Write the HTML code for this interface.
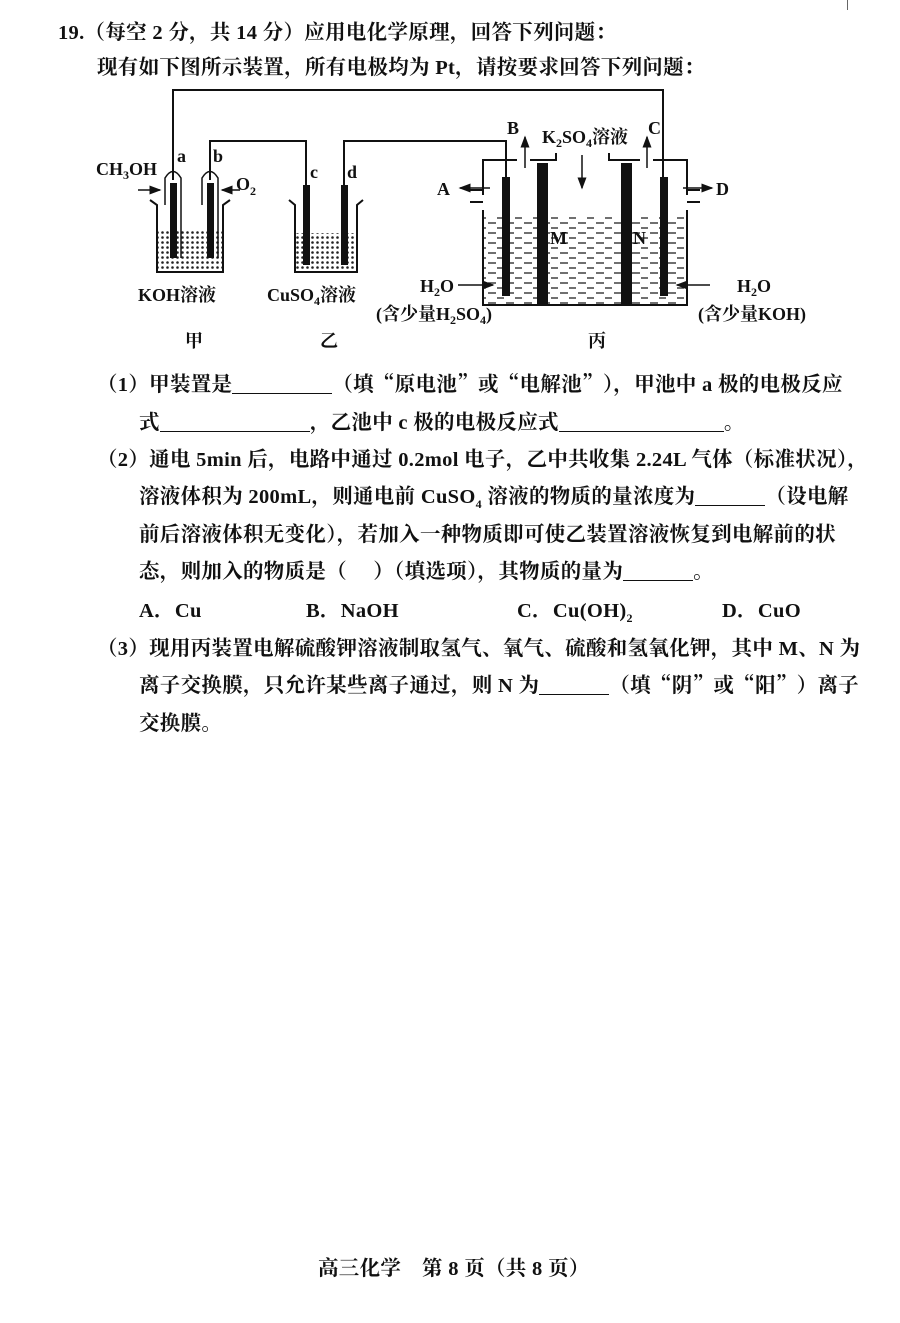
<!DOCTYPE html>
<html><head><meta charset="utf-8"><style>
body{margin:0;background:#fff;}
#p{position:relative;width:900px;height:1323px;overflow:hidden;font-family:"Liberation Serif","Noto Serif CJK SC","Noto Sans CJK SC",serif;color:#111;}
.l{position:absolute;font-size:20.5px;letter-spacing:0.3px;white-space:nowrap;font-weight:bold;}
.q{font-family:"Noto Serif CJK SC",serif;}
.u{display:inline-block;border-bottom:1.5px solid #111;height:1em;vertical-align:-3px;}
svg text{font-family:"Liberation Serif","Noto Serif CJK SC",serif;font-weight:bold;}
</style></head><body><div id="p">
<div class="l" style="left:58px;top:15px">19.（每空 2 分，共 14 分）应用电化学原理，回答下列问题：</div>
<div class="l" style="left:97px;top:50px">现有如下图所示装置，所有电极均为 Pt，请按要求回答下列问题：</div>
<div style="position:absolute;left:847px;top:0;width:1px;height:10px;background:#666"></div>
<svg style="position:absolute;left:0;top:0" width="900" height="360">
<defs><pattern id="dots" width="5" height="5" patternUnits="userSpaceOnUse"><rect width="5" height="5" fill="#fff"/><circle cx="2.5" cy="2.5" r="1.3" fill="#222"/></pattern>
<pattern id="dash" width="18" height="10" patternUnits="userSpaceOnUse"><rect width="18" height="10" fill="#fff"/><line x1="2" y1="3" x2="10" y2="3" stroke="#222" stroke-width="1.3"/><line x1="11" y1="8" x2="18" y2="8" stroke="#222" stroke-width="1.3"/></pattern>
<marker id="ar" markerWidth="8" markerHeight="8" refX="7" refY="4" orient="auto"><path d="M0,1 L8,4 L0,7z" fill="#111"/></marker></defs>
<g stroke="#111" stroke-width="2" fill="none">
<polyline points="173,180 173,90 663,90 663,177"/>
<polyline points="210,180 210,141 306,141 306,185"/>
<polyline points="344,185 344,141 506,141 506,177"/>
</g>
<rect x="158" y="230" width="64" height="42" fill="url(#dots)"/>
<path d="M150,200 L157,205 L157,272 L223,272 L223,205 L230,200" stroke="#111" stroke-width="2" fill="none"/>
<path d="M165,205 L165,178 Q173,165 181,178 L181,258" stroke="#111" stroke-width="1.5" fill="none"/>
<path d="M202,205 L202,178 Q210,165 218,178 L218,258" stroke="#111" stroke-width="1.5" fill="none"/>
<rect x="170" y="183" width="7" height="75" fill="#111"/>
<rect x="207" y="183" width="7" height="75" fill="#111"/>
<line x1="138" y1="190" x2="160" y2="190" stroke="#111" stroke-width="1.5" marker-end="url(#ar)"/>
<line x1="240" y1="190" x2="222" y2="190" stroke="#111" stroke-width="1.5" marker-end="url(#ar)"/>
<rect x="295" y="233" width="62" height="39" fill="url(#dots)"/>
<path d="M289,200 L295,205 L295,272 L357,272 L357,205 L363,200" stroke="#111" stroke-width="2" fill="none"/>
<rect x="303" y="185" width="7" height="80" fill="#111"/>
<rect x="341" y="185" width="7" height="80" fill="#111"/>
<rect x="484" y="216" width="202" height="89" fill="url(#dash)"/>
<path d="M483,210 L483,305 L687,305 L687,210" stroke="#111" stroke-width="2" fill="none"/>
<path d="M483,195 L483,160 L517,160 M530,160 L556,160 L556,153 M609,153 L609,160 L640,160 M653,160 L687,160 L687,195" stroke="#111" stroke-width="2" fill="none"/>
<path d="M470,190 L483,190 M470,202 L483,202 M687,190 L700,190 M687,202 L700,202" stroke="#111" stroke-width="2"/>
<rect x="537" y="163" width="11" height="142" fill="#111"/>
<rect x="621" y="163" width="11" height="142" fill="#111"/>
<rect x="502" y="177" width="8" height="119" fill="#111"/>
<rect x="660" y="177" width="8" height="119" fill="#111"/>
<line x1="525" y1="168" x2="525" y2="137" stroke="#111" stroke-width="1.5" marker-end="url(#ar)"/>
<line x1="647" y1="168" x2="647" y2="137" stroke="#111" stroke-width="1.5" marker-end="url(#ar)"/>
<line x1="582" y1="155" x2="582" y2="188" stroke="#111" stroke-width="1.5" marker-end="url(#ar)"/>
<line x1="490" y1="188" x2="460" y2="188" stroke="#111" stroke-width="1.5" marker-end="url(#ar)"/>
<line x1="683" y1="188" x2="712" y2="188" stroke="#111" stroke-width="1.5" marker-end="url(#ar)"/>
<line x1="458" y1="285" x2="493" y2="285" stroke="#111" stroke-width="1.5" marker-end="url(#ar)"/>
<line x1="710" y1="285" x2="677" y2="285" stroke="#111" stroke-width="1.5" marker-end="url(#ar)"/>
<g font-size="18" fill="#111">
<text x="96" y="175">CH<tspan font-size="12" dy="4">3</tspan><tspan dy="-4">OH</tspan></text>
<text x="177" y="162">a</text><text x="213" y="162">b</text>
<text x="236" y="190">O<tspan font-size="12" dy="5">2</tspan></text>
<text x="310" y="178">c</text><text x="347" y="178">d</text>
<text x="138" y="301">KOH溶液</text>
<text x="267" y="301">CuSO<tspan font-size="12" dy="4">4</tspan><tspan dy="-4">溶液</tspan></text>
<text x="185" y="347">甲</text><text x="320" y="347">乙</text><text x="588" y="347">丙</text>
<text x="507" y="134">B</text><text x="648" y="134">C</text>
<text x="542" y="143">K<tspan font-size="12" dy="4">2</tspan><tspan dy="-4">SO</tspan><tspan font-size="12" dy="4">4</tspan><tspan dy="-4">溶液</tspan></text>
<text x="437" y="195">A</text><text x="716" y="195">D</text>
<text x="550" y="244" font-weight="normal">M</text><text x="633" y="244" font-weight="normal">N</text>
<text x="420" y="292">H<tspan font-size="12" dy="4">2</tspan><tspan dy="-4">O</tspan></text>
<text x="376" y="320">(含少量H<tspan font-size="12" dy="4">2</tspan><tspan dy="-4">SO</tspan><tspan font-size="12" dy="4">4</tspan><tspan dy="-4">)</tspan></text>
<text x="737" y="292">H<tspan font-size="12" dy="4">2</tspan><tspan dy="-4">O</tspan></text>
<text x="698" y="320">(含少量KOH)</text>
</g>
</svg>
<div class="l" style="left:97px;top:367px">（1）甲装置是<span class="u" style="width:100px"></span>（填<span class="q">“</span>原电池<span class="q">”</span>或<span class="q">“</span>电解池<span class="q">”</span>），甲池中 a 极的电极反应</div>
<div class="l" style="left:139px;top:405px">式<span class="u" style="width:150px"></span>，乙池中 c 极的电极反应式<span class="u" style="width:165px"></span>。</div>
<div class="l" style="left:97px;top:442px">（2）通电 5min 后，电路中通过 0.2mol 电子，乙中共收集 2.24L 气体（标准状况），</div>
<div class="l" style="left:139px;top:479px">溶液体积为 200mL，则通电前 CuSO<sub style="font-size:12px">4</sub> 溶液的物质的量浓度为<span class="u" style="width:70px"></span>（设电解</div>
<div class="l" style="left:139px;top:517px">前后溶液体积无变化），若加入一种物质即可使乙装置溶液恢复到电解前的状</div>
<div class="l" style="left:139px;top:554px">态，则加入的物质是（　 ）（填选项），其物质的量为<span class="u" style="width:70px"></span>。</div>
<div class="l" style="left:139px;top:593px">A．Cu</div>
<div class="l" style="left:306px;top:593px">B．NaOH</div>
<div class="l" style="left:517px;top:593px">C．Cu(OH)<sub style="font-size:12px">2</sub></div>
<div class="l" style="left:722px;top:593px">D．CuO</div>
<div class="l" style="left:97px;top:631px">（3）现用丙装置电解硫酸钾溶液制取氢气、氧气、硫酸和氢氧化钾，其中 M、N 为</div>
<div class="l" style="left:139px;top:668px">离子交换膜，只允许某些离子通过，则 N 为<span class="u" style="width:70px"></span>（填<span class="q">“</span>阴<span class="q">”</span>或<span class="q">“</span>阳<span class="q">”</span>）离子</div>
<div class="l" style="left:139px;top:706px">交换膜。</div>
<div class="l" style="left:318px;top:1251px">高三化学　第 8 页（共 8 页）</div>
</div></body></html>
